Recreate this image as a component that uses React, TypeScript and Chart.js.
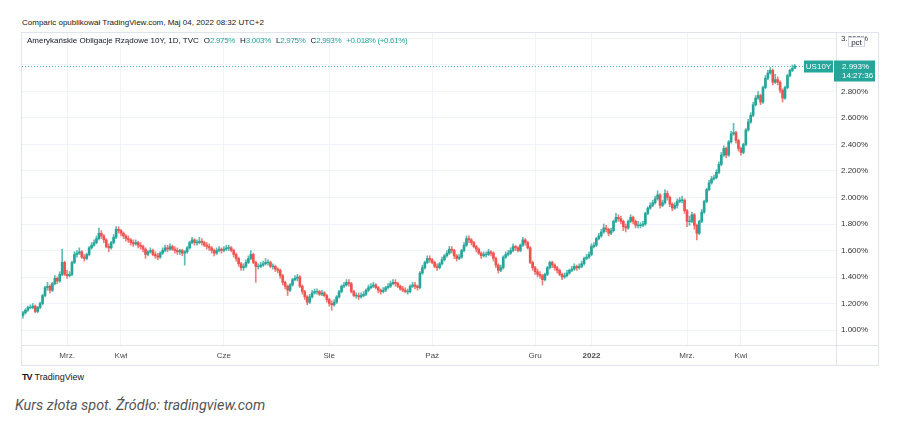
import React, { useEffect, useRef } from "react";
import { Chart, registerables } from "chart.js";
Chart.register(...registerables);

const UP = "#26a69a";
const DOWN = "#ef5350";

const firstOpen = 1.11;

const closes = [
  1.13,1.15,1.17,1.17,1.18,1.14,1.17,1.20,1.26,1.32,
  1.33,1.30,1.35,1.39,1.37,1.42,1.51,1.42,1.41,1.42,
  1.51,1.57,1.58,1.59,1.55,1.54,1.57,1.62,1.64,1.66,
  1.69,1.73,1.71,1.68,1.63,1.62,1.66,1.70,1.76,1.75,
  1.73,1.71,1.69,1.68,1.66,1.65,1.66,1.64,1.63,1.61,
  1.57,1.59,1.60,1.57,1.56,1.55,1.58,1.60,1.62,1.61,
  1.63,1.61,1.60,1.59,1.60,1.58,1.59,1.62,1.66,1.68,
  1.66,1.66,1.67,1.66,1.64,1.63,1.62,1.60,1.58,1.60,
  1.61,1.60,1.61,1.62,1.62,1.60,1.57,1.54,1.50,1.47,
  1.48,1.51,1.54,1.57,1.51,1.48,1.48,1.49,1.50,1.51,
  1.51,1.48,1.48,1.46,1.45,1.41,1.36,1.33,1.30,1.34,
  1.38,1.39,1.40,1.33,1.29,1.25,1.21,1.25,1.28,1.29,
  1.29,1.27,1.28,1.26,1.23,1.20,1.19,1.21,1.25,1.29,
  1.33,1.34,1.36,1.35,1.29,1.26,1.26,1.25,1.26,1.27,
  1.30,1.32,1.33,1.34,1.32,1.30,1.29,1.30,1.32,1.33,
  1.35,1.36,1.35,1.33,1.31,1.30,1.29,1.29,1.33,1.34,
  1.33,1.32,1.43,1.47,1.51,1.54,1.53,1.51,1.48,1.47,
  1.50,1.53,1.56,1.58,1.61,1.60,1.56,1.54,1.55,1.60,
  1.64,1.69,1.68,1.66,1.63,1.61,1.58,1.56,1.57,1.57,
  1.59,1.58,1.54,1.49,1.45,1.47,1.55,1.57,1.58,1.60,
  1.63,1.62,1.60,1.64,1.68,1.66,1.62,1.51,1.47,1.44,
  1.42,1.41,1.38,1.42,1.47,1.51,1.49,1.47,1.45,1.42,
  1.40,1.41,1.43,1.45,1.46,1.48,1.47,1.48,1.50,1.54,
  1.55,1.57,1.63,1.64,1.69,1.71,1.74,1.77,1.76,1.73,
  1.75,1.82,1.85,1.84,1.82,1.78,1.77,1.82,1.85,1.82,
  1.79,1.79,1.79,1.80,1.88,1.92,1.94,1.96,1.99,2.02,
  1.94,1.96,2.03,2.00,1.95,1.92,1.94,1.97,1.98,1.98,
  1.90,1.82,1.82,1.87,1.79,1.73,1.82,1.89,1.97,2.06,
  2.11,2.14,2.15,2.19,2.25,2.32,2.37,2.32,2.42,2.48,
  2.49,2.43,2.37,2.34,2.40,2.51,2.57,2.62,2.70,2.75,
  2.77,2.72,2.83,2.90,2.94,2.96,2.87,2.89,2.87,2.81,
  2.75,2.83,2.92,2.96,2.975,2.993,
];

const highs = [
  1.14,1.16,1.18,1.19,1.20,1.19,1.18,1.21,1.27,1.33,
  1.36,1.34,1.36,1.41,1.40,1.44,1.61,1.52,1.45,1.44,
  1.52,1.59,1.60,1.62,1.60,1.57,1.58,1.63,1.66,1.68,
  1.71,1.77,1.75,1.72,1.69,1.65,1.67,1.72,1.78,1.78,
  1.76,1.74,1.72,1.71,1.69,1.68,1.68,1.67,1.66,1.64,
  1.62,1.60,1.62,1.61,1.59,1.58,1.59,1.62,1.64,1.64,
  1.65,1.64,1.63,1.62,1.61,1.61,1.60,1.63,1.67,1.70,
  1.69,1.68,1.70,1.69,1.67,1.66,1.65,1.63,1.61,1.62,
  1.63,1.62,1.63,1.64,1.64,1.63,1.61,1.58,1.55,1.51,
  1.50,1.53,1.56,1.60,1.58,1.52,1.50,1.51,1.52,1.54,
  1.53,1.52,1.50,1.49,1.47,1.46,1.42,1.37,1.34,1.35,
  1.39,1.41,1.42,1.41,1.34,1.30,1.26,1.27,1.30,1.31,
  1.31,1.30,1.30,1.29,1.27,1.24,1.22,1.23,1.26,1.30,
  1.34,1.36,1.38,1.38,1.36,1.30,1.28,1.28,1.28,1.29,
  1.31,1.34,1.35,1.36,1.35,1.33,1.31,1.32,1.33,1.35,
  1.37,1.38,1.38,1.36,1.34,1.33,1.32,1.31,1.34,1.36,
  1.36,1.34,1.44,1.49,1.52,1.56,1.56,1.54,1.52,1.50,
  1.51,1.55,1.57,1.60,1.63,1.63,1.61,1.57,1.57,1.61,
  1.66,1.71,1.71,1.69,1.67,1.64,1.62,1.59,1.59,1.59,
  1.61,1.60,1.59,1.55,1.50,1.49,1.56,1.59,1.60,1.62,
  1.65,1.64,1.63,1.65,1.70,1.69,1.67,1.63,1.52,1.48,
  1.46,1.44,1.42,1.43,1.48,1.52,1.52,1.50,1.48,1.46,
  1.43,1.43,1.45,1.46,1.48,1.50,1.49,1.50,1.52,1.55,
  1.57,1.59,1.65,1.66,1.70,1.73,1.76,1.80,1.79,1.77,
  1.77,1.83,1.88,1.87,1.86,1.83,1.80,1.83,1.87,1.86,
  1.83,1.82,1.81,1.82,1.89,1.93,1.96,1.98,2.01,2.05,
  2.03,1.98,2.06,2.05,2.01,1.96,1.96,1.99,2.00,2.01,
  1.99,1.91,1.86,1.89,1.88,1.80,1.83,1.91,1.98,2.07,
  2.13,2.16,2.17,2.21,2.27,2.34,2.39,2.38,2.43,2.50,
  2.56,2.50,2.44,2.38,2.41,2.52,2.59,2.64,2.72,2.77,
  2.80,2.78,2.84,2.92,2.96,2.98,2.97,2.93,2.91,2.88,
  2.82,2.84,2.93,2.97,3.00,3.003,
];

const lows = [
  1.09,1.12,1.14,1.16,1.16,1.13,1.13,1.16,1.19,1.25,
  1.30,1.28,1.29,1.34,1.35,1.36,1.41,1.41,1.39,1.40,
  1.41,1.50,1.55,1.57,1.54,1.52,1.53,1.56,1.61,1.63,
  1.65,1.68,1.69,1.66,1.62,1.59,1.61,1.65,1.69,1.73,
  1.71,1.69,1.67,1.66,1.64,1.63,1.64,1.62,1.61,1.59,
  1.54,1.56,1.58,1.56,1.54,1.53,1.54,1.57,1.59,1.59,
  1.60,1.60,1.58,1.57,1.57,1.56,1.49,1.58,1.61,1.65,
  1.64,1.64,1.65,1.64,1.63,1.61,1.60,1.58,1.56,1.57,
  1.59,1.58,1.59,1.60,1.60,1.59,1.55,1.52,1.48,1.45,
  1.45,1.47,1.50,1.53,1.50,1.36,1.46,1.47,1.48,1.49,
  1.49,1.47,1.46,1.44,1.43,1.39,1.34,1.31,1.26,1.29,
  1.33,1.37,1.37,1.32,1.27,1.23,1.19,1.20,1.24,1.27,
  1.27,1.26,1.26,1.25,1.21,1.18,1.15,1.18,1.20,1.24,
  1.28,1.32,1.33,1.33,1.28,1.25,1.24,1.23,1.24,1.25,
  1.26,1.29,1.31,1.32,1.31,1.28,1.27,1.28,1.29,1.31,
  1.32,1.34,1.33,1.32,1.30,1.29,1.28,1.27,1.28,1.32,
  1.31,1.30,1.31,1.42,1.46,1.50,1.51,1.50,1.47,1.45,
  1.46,1.49,1.52,1.55,1.57,1.58,1.54,1.52,1.53,1.54,
  1.59,1.63,1.66,1.64,1.62,1.59,1.57,1.54,1.55,1.55,
  1.56,1.56,1.52,1.47,1.43,1.44,1.46,1.54,1.56,1.57,
  1.59,1.60,1.59,1.59,1.63,1.64,1.61,1.50,1.45,1.42,
  1.40,1.39,1.34,1.37,1.41,1.46,1.47,1.45,1.43,1.41,
  1.38,1.39,1.40,1.42,1.44,1.45,1.45,1.46,1.47,1.49,
  1.53,1.54,1.56,1.62,1.63,1.68,1.70,1.73,1.74,1.71,
  1.72,1.74,1.81,1.82,1.80,1.75,1.74,1.76,1.81,1.80,
  1.77,1.77,1.77,1.78,1.79,1.87,1.91,1.93,1.95,1.98,
  1.92,1.93,1.95,1.98,1.93,1.90,1.91,1.92,1.96,1.96,
  1.88,1.78,1.79,1.81,1.76,1.68,1.72,1.81,1.88,1.96,
  2.05,2.10,2.13,2.14,2.18,2.24,2.31,2.30,2.31,2.41,
  2.47,2.41,2.35,2.32,2.33,2.39,2.50,2.56,2.61,2.69,
  2.74,2.70,2.71,2.82,2.89,2.93,2.85,2.86,2.85,2.79,
  2.72,2.74,2.82,2.91,2.95,2.975,
];

const timeTickIndex = [18, 40, 82, 125, 167, 209, 232, 271, 293];
const timeTickLabels = ["Mrz.", "Kwi", "Cze", "Sie", "Paź", "Gru", "2022", "Mrz.", "Kwi"];
const priceTicks = [1.0, 1.2, 1.4, 1.6, 1.8, 2.0, 2.2, 2.4, 2.6, 2.8, 3.0, 3.2];

const symbolName = "Amerykańskie Obligacje Rządowe 10Y, 1D, TVC";
const tickerLabel = "US10Y";
const countdown = "14:27:36";
const headerText = "Comparic opublikował TradingView.com, Maj 04, 2022 08:32 UTC+2";
const captionText = "Kurs złota spot. Źródło: tradingview.com";

const FONT = '"Liberation Sans", "DejaVu Sans", sans-serif';

const opens = closes.map((c, i) => (i === 0 ? firstOpen : closes[i - 1]));
const lastIdx = closes.length - 1;

export default function App() {
  const ref = useRef<HTMLCanvasElement | null>(null);

  useEffect(() => {
    if (!ref.current) return;
    const colors = closes.map((c, i) => (c >= opens[i] ? UP : DOWN));
    const wickColors = closes.map((c, i) => (c >= opens[i] ? "rgba(38,166,154,0.75)" : "rgba(239,83,80,0.75)"));
    const bodies = closes.map((c, i) => {
      const o = opens[i];
      let lo = Math.min(o, c);
      let hi = Math.max(o, c);
      if (hi - lo < 0.005) {
        const m = (hi + lo) / 2;
        lo = m - 0.0025;
        hi = m + 0.0025;
      }
      return { x: i, y: [lo, hi] };
    });
    const wicks = closes.map((c, i) => ({
      x: i,
      y: [Math.min(lows[i], opens[i], c), Math.max(highs[i], opens[i], c)],
    }));

    const overlay = {
      id: "overlay",
      afterDraw(chart: any) {
        const { ctx, chartArea: a } = chart;
        const y = chart.scales.y;
        ctx.save();
        ctx.strokeStyle = "#e0e3eb";
        ctx.lineWidth = 1;
        ctx.strokeRect(0.5, 0.5, chart.width - 1, chart.height - 1);
        const rx = Math.round(a.right) + 0.5;
        const by = Math.round(a.bottom) + 0.5;
        ctx.beginPath();
        ctx.moveTo(rx, 0);
        ctx.lineTo(rx, chart.height);
        ctx.moveTo(0, by);
        ctx.lineTo(chart.width, by);
        ctx.stroke();

        const last = closes[lastIdx];
        const py = Math.round(y.getPixelForValue(last)) + 0.5;
        ctx.setLineDash([1, 2]);
        ctx.strokeStyle = "rgba(38,166,154,0.8)";
        ctx.beginPath();
        ctx.moveTo(a.left, py);
        ctx.lineTo(a.right, py);
        ctx.stroke();
        ctx.setLineDash([]);

        // ticker box
        ctx.fillStyle = UP;
        ctx.fillRect(a.right - 32, py - 6, 29, 12);
        ctx.fillStyle = "#ffffff";
        ctx.font = `8px ${FONT}`;
        ctx.textAlign = "center";
        ctx.textBaseline = "middle";
        ctx.fillText(tickerLabel, a.right - 17.5, py);

        // price box
        ctx.fillStyle = UP;
        ctx.fillRect(a.right - 2, py - 6, 41, 21);
        ctx.fillStyle = "#ffffff";
        ctx.textAlign = "left";
        ctx.fillText(last.toFixed(3) + "%", a.right + 6, py);
        ctx.fillText(countdown, a.right + 6, py + 9);

        // pct box
        ctx.fillStyle = "#ffffff";
        ctx.strokeStyle = "#d1d4dc";
        ctx.fillRect(a.right + 12, 5, 17, 10);
        ctx.strokeRect(a.right + 12.5, 5.5, 16, 9);
        ctx.fillStyle = "#131722";
        ctx.textAlign = "center";
        ctx.fillText("pct", a.right + 20.5, 10.5);
        ctx.restore();
      },
    };

    const chart = new Chart(ref.current, {
      type: "bar",
      data: {
        datasets: [
          {
            data: bodies as any,
            backgroundColor: colors,
            borderWidth: 0,
            barThickness: 2,
            grouped: false,
            order: 0,
          } as any,
          {
            data: wicks as any,
            backgroundColor: wickColors,
            borderWidth: 0,
            barThickness: 1,
            grouped: false,
            order: 1,
          } as any,
        ],
      },
      options: {
        animation: false,
        responsive: false,
        maintainAspectRatio: false,
        layout: { padding: { left: 1, top: 1, right: 1, bottom: 1 } },
        plugins: { legend: { display: false }, tooltip: { enabled: false } },
        scales: {
          x: {
            type: "linear",
            min: -0.4,
            max: 331.8,
            offset: false,
            grid: { color: "#f0f3fa", drawTicks: false, offset: false },
            border: { display: false },
            afterBuildTicks: (s: any) => {
              s.ticks = timeTickIndex.map((v) => ({ value: v }));
            },
            afterFit: (s: any) => {
              s.height = 20;
              s.paddingLeft = 0;
              s.paddingRight = 0;
            },
            ticks: {
              autoSkip: false,
              maxRotation: 0,
              padding: 6,
              color: "#4a4a4a",
              font: (ctx: any) => ({
                family: FONT,
                size: 8,
                weight: ctx.tick && ctx.tick.value === 232 ? "bold" : "normal",
              }),
              callback: (v: any) => {
                const k = timeTickIndex.indexOf(Number(v));
                return k >= 0 ? timeTickLabels[k] : "";
              },
            },
          } as any,
          y: {
            position: "right",
            min: 0.8868,
            max: 3.2415,
            grid: { color: "#f0f3fa", drawTicks: false },
            border: { display: false },
            afterBuildTicks: (s: any) => {
              s.ticks = priceTicks.map((v) => ({ value: v }));
            },
            afterFit: (s: any) => {
              s.width = 42;
              s.paddingTop = 0;
              s.paddingBottom = 0;
            },
            ticks: {
              padding: 5,
              color: "#333333",
              font: { family: FONT, size: 8 },
              callback: (v: any) => Number(v).toFixed(3) + "%",
            },
          } as any,
        },
      },
      plugins: [overlay],
    });
    return () => chart.destroy();
  }, []);

  const o = opens[lastIdx];
  const h = highs[lastIdx];
  const l = lows[lastIdx];
  const c = closes[lastIdx];
  const chg = c - closes[lastIdx - 1];
  const chgPct = (chg / closes[lastIdx - 1]) * 100;
  const teal = { color: UP, letterSpacing: "-0.35px" };
  const gap = { marginLeft: 5 };

  return (
    <div style={{ position: "absolute", left: 0, top: 0, width: 899, height: 444, background: "#fff", fontFamily: FONT }}>
      <div style={{ position: "absolute", left: 22, top: 18, fontSize: 8, lineHeight: "10px", color: "#131722", whiteSpace: "nowrap" }}>
        {headerText}
      </div>
      <canvas ref={ref} width={858} height={334} style={{ position: "absolute", left: 21, top: 32, width: 858, height: 334 }} />
      <div style={{ position: "absolute", left: 27, top: 36, fontSize: 8, lineHeight: "10px", color: "#131722", whiteSpace: "nowrap" }}>
        <span>{symbolName}</span>
        <span style={{ marginLeft: 5 }}>O<span style={teal}>{o.toFixed(3)}%</span></span>
        <span style={gap}>H<span style={teal}>{h.toFixed(3)}%</span></span>
        <span style={gap}>L<span style={teal}>{l.toFixed(3)}%</span></span>
        <span style={gap}>C<span style={teal}>{c.toFixed(3)}%</span></span>
        <span style={{ ...gap, ...teal }}>
          {(chg >= 0 ? "+" : "") + chg.toFixed(3)}% ({(chgPct >= 0 ? "+" : "") + chgPct.toFixed(2)}%)
        </span>
      </div>
      <div style={{ position: "absolute", left: 22, top: 372, fontSize: 9, lineHeight: "10px", color: "#131722", whiteSpace: "nowrap" }}>
        <span style={{ fontWeight: 900, letterSpacing: -1, marginRight: 3 }}>TV</span>TradingView
      </div>
      <div style={{ position: "absolute", left: 15, top: 398, fontSize: 14.4, lineHeight: "16px", color: "#555", fontStyle: "italic", fontFamily: "Roboto, sans-serif", whiteSpace: "nowrap" }}>
        {captionText}
      </div>
    </div>
  );
}
